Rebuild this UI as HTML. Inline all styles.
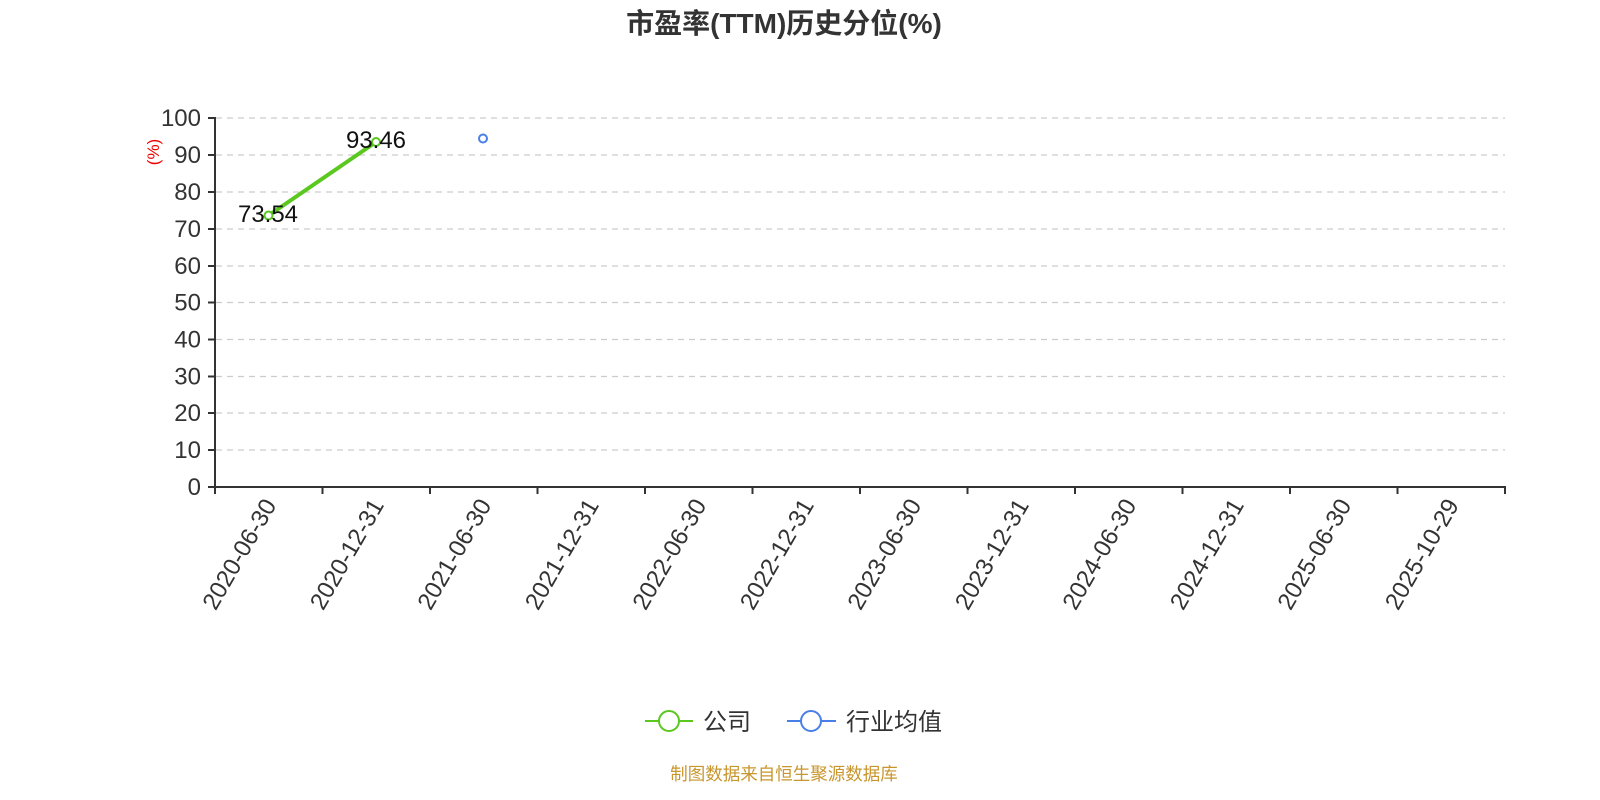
<!DOCTYPE html>
<html><head><meta charset="utf-8"><style>
html,body{margin:0;padding:0;background:#fff;width:1600px;height:800px;overflow:hidden}
svg text{font-family:"Liberation Sans","Noto Sans CJK SC",sans-serif}
</style></head><body>
<svg width="1600" height="800" viewBox="0 0 1600 800" xmlns="http://www.w3.org/2000/svg">
<text x="784" y="33" text-anchor="middle" font-size="28" font-weight="bold" fill="#333">市盈率(TTM)历史分位(%)</text>
<g stroke="#ccc" stroke-width="1.3" stroke-dasharray="6,5">
<line x1="216" y1="118" x2="1505" y2="118"/>
<line x1="216" y1="155" x2="1505" y2="155"/>
<line x1="216" y1="192" x2="1505" y2="192"/>
<line x1="216" y1="229" x2="1505" y2="229"/>
<line x1="216" y1="266" x2="1505" y2="266"/>
<line x1="216" y1="302.5" x2="1505" y2="302.5"/>
<line x1="216" y1="339.5" x2="1505" y2="339.5"/>
<line x1="216" y1="376.5" x2="1505" y2="376.5"/>
<line x1="216" y1="413" x2="1505" y2="413"/>
<line x1="216" y1="450" x2="1505" y2="450"/>
</g>
<g stroke="#333" stroke-width="2">
<line x1="215" y1="117" x2="215" y2="488"/>
<line x1="208" y1="487" x2="1506" y2="487"/>
<line x1="208" y1="118" x2="215" y2="118"/><line x1="208" y1="155" x2="215" y2="155"/><line x1="208" y1="192" x2="215" y2="192"/><line x1="208" y1="229" x2="215" y2="229"/><line x1="208" y1="266" x2="215" y2="266"/><line x1="208" y1="302.5" x2="215" y2="302.5"/><line x1="208" y1="339.5" x2="215" y2="339.5"/><line x1="208" y1="376.5" x2="215" y2="376.5"/><line x1="208" y1="413" x2="215" y2="413"/><line x1="208" y1="450" x2="215" y2="450"/>
<line x1="215" y1="487" x2="215" y2="494"/><line x1="322.5" y1="487" x2="322.5" y2="494"/><line x1="430" y1="487" x2="430" y2="494"/><line x1="537.5" y1="487" x2="537.5" y2="494"/><line x1="645" y1="487" x2="645" y2="494"/><line x1="752.5" y1="487" x2="752.5" y2="494"/><line x1="860" y1="487" x2="860" y2="494"/><line x1="967.5" y1="487" x2="967.5" y2="494"/><line x1="1075" y1="487" x2="1075" y2="494"/><line x1="1182.5" y1="487" x2="1182.5" y2="494"/><line x1="1290" y1="487" x2="1290" y2="494"/><line x1="1397.5" y1="487" x2="1397.5" y2="494"/><line x1="1505" y1="487" x2="1505" y2="494"/>
</g>
<g font-size="24" fill="#333" text-anchor="end">
<text x="201" y="126">100</text><text x="201" y="163">90</text><text x="201" y="200">80</text><text x="201" y="237">70</text><text x="201" y="274">60</text><text x="201" y="310.5">50</text><text x="201" y="347.5">40</text><text x="201" y="384.5">30</text><text x="201" y="421">20</text><text x="201" y="458">10</text><text x="201" y="495">0</text>
</g>
<text transform="translate(159,152) rotate(-90)" text-anchor="middle" font-size="17" fill="#e00">(%)</text>
<g font-size="24" fill="#333" text-anchor="end">
<text transform="translate(277,505) rotate(-60)">2020-06-30</text>
<text transform="translate(384.5,505) rotate(-60)">2020-12-31</text>
<text transform="translate(492,505) rotate(-60)">2021-06-30</text>
<text transform="translate(599.5,505) rotate(-60)">2021-12-31</text>
<text transform="translate(707,505) rotate(-60)">2022-06-30</text>
<text transform="translate(814.5,505) rotate(-60)">2022-12-31</text>
<text transform="translate(922,505) rotate(-60)">2023-06-30</text>
<text transform="translate(1029.5,505) rotate(-60)">2023-12-31</text>
<text transform="translate(1137,505) rotate(-60)">2024-06-30</text>
<text transform="translate(1244.5,505) rotate(-60)">2024-12-31</text>
<text transform="translate(1352,505) rotate(-60)">2025-06-30</text>
<text transform="translate(1459.5,505) rotate(-60)">2025-10-29</text>
</g>
<line x1="268.5" y1="215.5" x2="376" y2="142" stroke="#5ac81e" stroke-width="4"/>
<circle cx="268.5" cy="215.5" r="4" fill="#fff" stroke="#5ac81e" stroke-width="2"/>
<circle cx="376" cy="142" r="4" fill="#fff" stroke="#5ac81e" stroke-width="2"/>
<circle cx="483" cy="138.5" r="4" fill="#fff" stroke="#4a7fe8" stroke-width="2"/>
<g font-size="24" fill="#111" text-anchor="middle">
<text x="268" y="222">73.54</text><text x="376" y="148">93.46</text>
</g>
<line x1="645" y1="721" x2="693" y2="721" stroke="#5ac81e" stroke-width="2"/>
<circle cx="669" cy="721" r="10" fill="#fff" stroke="#5ac81e" stroke-width="2"/>
<text x="703" y="730" font-size="24" fill="#333">公司</text>
<line x1="787" y1="721" x2="836" y2="721" stroke="#4a7fe8" stroke-width="2"/>
<circle cx="811" cy="721" r="10" fill="#fff" stroke="#4a7fe8" stroke-width="2"/>
<text x="846" y="730" font-size="24" fill="#333">行业均值</text>
<text x="784" y="780" text-anchor="middle" font-size="17.5" fill="#c8962d">制图数据来自恒生聚源数据库</text>
</svg>
</body></html>
